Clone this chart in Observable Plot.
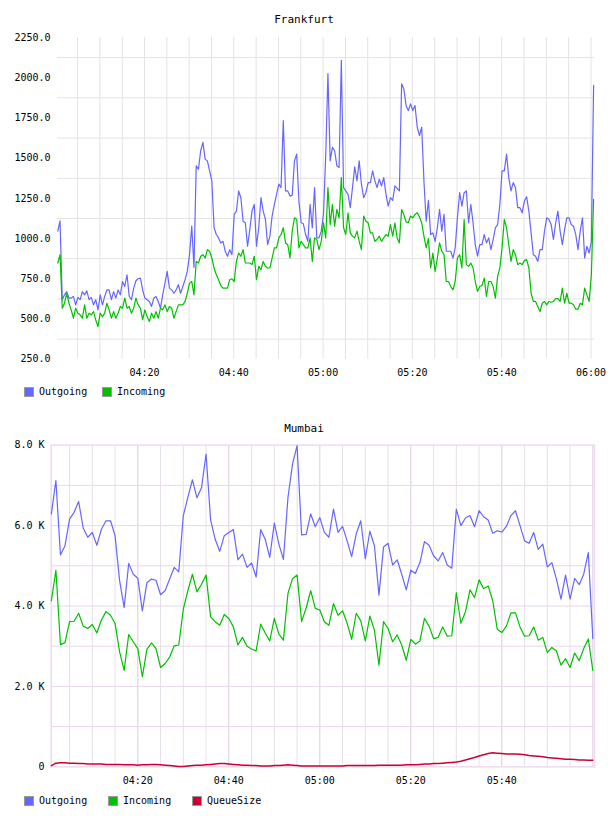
<!DOCTYPE html>
<html>
<head>
<meta charset="utf-8">
<script src="https://cdn.jsdelivr.net/npm/d3@7"></script>
<script src="https://cdn.jsdelivr.net/npm/@observablehq/plot@0.6"></script>
<style>
  html, body { margin: 0; padding: 0; background: #fff; }
  body { position: relative; width: 608px; height: 816px; overflow: hidden; font-family: "DejaVu Sans Mono", monospace; color: #000; }
  .title { position: absolute; left: 0; width: 608px; text-align: center; font-size: 11px; line-height: 14px; }
  .chart { position: absolute; left: 0; }
  .sw { position: absolute; width: 10px; height: 10px; box-sizing: border-box; border: 1px solid #9a9a9a; }
  .lt { position: absolute; font-size: 10px; line-height: 12px; }
</style>
</head>
<body>
<div class="title" id="t1" style="top:13px">Frankfurt</div>
<div class="chart" id="c1" style="top:30px"></div>
<div id="l1"></div>
<div class="title" id="t2" style="top:422px">Mumbai</div>
<div class="chart" id="c2" style="top:438px"></div>
<div id="l2"></div>
<script>
// ---------------- Frankfurt ----------------
const fraStart = "04:00:35";
const fraStepSec = 30;
const fraOutgoing = [
1046,1110,620,650,670,630,630,640,588,634,
620,670,650,675,620,634,588,620,557,650,
588,640,681,681,620,670,630,681,650,733,
702,775,640,620,692,738,750,754,681,630,
620,609,578,630,640,609,567,650,723,796,
692,681,660,681,713,660,702,744,796,900,
1077,
820,1452,1431,1546,1598,1494,1483,1421,1358,1067,
1025,1004,973,983,921,890,931,900,1150,1171,
1296,1254,1108,1098,952,1056,1171,1212,952,1067,
1254,1171,1119,962,1015,1140,1212,1275,1338,1317,
1733,1296,1296,1264,1270,1483,1525,1233,1098,1092,
1025,983,1212,1067,1317,1004,1004,1046,1150,1515,
2025,1483,1567,1546,1452,1442,2108,1317,1296,1275,
1192,1317,1446,1358,1483,1338,1254,1285,1348,1348,
1421,1362,1317,1369,1327,1379,1275,1202,1254,1237,
1327,1312,1296,1962,1931,1827,1796,1837,1796,1827,
1692,1640,1692,1358,1108,1237,1025,1035,983,1067,
1181,1046,1150,921,921,921,879,942,1129,1285,
1202,1285,1296,1098,1212,1098,962,890,962,962,
1025,973,1004,931,994,1067,1087,1212,1421,1421,
1525,1379,1296,1348,1317,1192,1192,1160,1233,1260,
1171,1035,900,890,858,931,931,1046,1129,1119,
1087,994,1098,1171,1046,962,1056,1129,1129,1087,
1077,1025,931,1046,1129,879,952,910,983,1952
];
const fraIncoming = [
848,900,567,598,660,598,557,505,567,536,
526,505,588,505,536,526,546,494,453,536,
515,536,598,557,505,546,505,536,578,567,
630,567,578,536,567,630,588,567,494,557,
515,484,536,505,546,505,567,557,588,546,
578,567,505,546,588,588,588,609,660,723,
733,
650,858,848,890,900,879,931,921,879,817,
775,744,708,692,692,692,744,750,733,858,
910,890,931,848,848,848,838,890,744,827,
806,858,827,817,817,879,942,942,1004,1025,
1067,973,962,879,1046,1129,1119,942,983,962,
942,942,1004,858,1004,994,931,983,1098,1004,
1317,1087,1212,1077,1181,1129,1379,1067,1025,1160,
1035,1015,1004,1046,983,931,1140,1108,1098,1035,
1035,983,994,1015,983,1004,1025,1015,1087,1015,
1098,1004,973,1181,1150,1104,1098,1140,1129,1150,
1160,1135,1098,1015,942,1000,817,910,796,879,
973,921,900,733,733,702,681,733,879,900,
817,1119,838,827,848,817,733,671,702,708,
754,640,733,733,702,630,765,817,942,1119,
1067,962,858,931,900,838,848,838,863,869,
817,660,609,609,578,546,598,609,588,609,
604,609,626,626,609,692,598,660,598,598,
588,561,561,598,588,692,650,609,775,1244
];
const fraYTicks = [250,500,750,1000,1250,1500,1750,2000,2250];
const fraYGrid = [375,625,875,1125,1375,1625,1875,2125];
const fraXTicks = ["04:20","04:40","05:00","05:20","05:40","06:00"];
const fraXDomain = ["04:00:31","06:00:47"];

// ---------------- Mumbai (values in K) ----------------
const mumStart = "04:01";
const mumStepSec = 60;
const mumOutgoing = [
6.29,7.12,5.27,5.50,6.16,6.33,6.60,5.94,5.71,5.83,
5.51,5.91,6.12,6.12,5.75,4.63,3.96,5.06,4.79,4.69,
3.88,4.58,4.67,4.64,4.28,4.38,4.67,4.96,4.85,6.25,
6.70,7.14,6.69,6.94,7.78,6.14,5.66,5.36,5.75,5.83,
5.90,5.15,5.29,4.96,5.07,4.72,5.90,5.66,5.21,6.06,
5.54,5.16,6.70,7.53,7.99,5.77,5.78,6.29,5.97,6.20,
5.83,5.71,6.41,5.83,5.98,5.62,5.23,5.79,6.12,5.18,
5.86,5.50,4.27,5.47,5.56,5.02,5.15,4.79,4.40,4.89,
4.81,5.08,5.60,5.51,5.25,5.12,5.33,5.02,4.94,6.41,
6.00,6.19,6.25,5.97,6.37,6.22,6.14,5.81,5.87,5.84,
5.98,6.25,6.37,6.00,5.62,5.56,5.83,5.41,5.54,4.97,
5.08,4.67,4.17,4.77,4.17,4.69,4.53,4.79,5.33,3.19
];
const mumIncoming = [
4.13,4.89,3.04,3.09,3.61,3.62,3.82,3.50,3.44,3.54,
3.33,3.65,3.86,3.77,3.57,2.86,2.40,3.29,3.11,2.94,
2.24,2.92,3.08,2.94,2.47,2.57,2.73,3.01,3.03,3.92,
4.38,4.79,4.35,4.54,4.77,3.73,3.61,3.52,3.79,3.69,
3.48,3.03,3.22,3.00,2.93,2.88,3.55,3.33,3.13,3.69,
3.30,3.15,4.31,4.68,4.77,3.61,3.95,4.38,3.94,3.90,
3.61,3.52,4.06,3.77,3.88,3.57,3.17,3.82,3.63,3.13,
3.75,3.40,2.53,3.61,3.44,3.11,3.28,3.03,2.65,3.17,
3.05,3.13,3.69,3.50,3.19,3.22,3.48,3.25,3.26,4.33,
3.57,3.85,4.40,4.21,4.65,4.43,4.50,4.13,3.42,3.34,
3.50,3.83,3.83,3.48,3.25,3.26,3.48,3.15,3.22,2.84,
2.97,2.88,2.53,2.69,2.47,2.83,2.64,2.94,3.18,2.40
];
const mumQueueSize = [
0.03,0.09,0.10,0.10,0.09,0.09,0.08,0.08,0.07,0.07,
0.07,0.07,0.06,0.06,0.06,0.06,0.05,0.05,0.05,0.04,
0.05,0.05,0.06,0.06,0.05,0.04,0.03,0.02,0.01,0.01,
0.02,0.03,0.04,0.04,0.05,0.06,0.07,0.08,0.08,0.07,
0.06,0.05,0.04,0.04,0.03,0.03,0.02,0.02,0.02,0.03,
0.03,0.04,0.05,0.04,0.03,0.02,0.02,0.02,0.02,0.02,
0.02,0.02,0.02,0.02,0.02,0.03,0.03,0.03,0.03,0.03,
0.03,0.03,0.04,0.04,0.04,0.04,0.04,0.04,0.05,0.05,
0.05,0.06,0.07,0.07,0.08,0.08,0.09,0.10,0.11,0.12,
0.14,0.17,0.20,0.23,0.27,0.30,0.33,0.35,0.34,0.33,
0.32,0.32,0.32,0.31,0.30,0.28,0.27,0.26,0.25,0.23,
0.22,0.21,0.20,0.19,0.19,0.18,0.17,0.17,0.16,0.16
];
const mumYTicks = [0,2,4,6,8];
const mumYGrid = [1,2,3,4,5,6,7];
const mumXTicks = ["04:20","04:40","05:00","05:20","05:40"];
const mumXDomain = ["04:00:58","06:00:22"];

const seriesNames = ["Outgoing","Incoming","QueueSize"];
const colors = {Outgoing: "#6666ff", Incoming: "#00c000", QueueSize: "#cc0033"};

// ---------------- helpers ----------------
const T = s => { const [h, m, sec = 0] = s.split(":").map(Number); return new Date(Date.UTC(2020, 0, 1, h, m, sec)); };
const fmt = d3.utcFormat("%H:%M");
const font = {fontFamily: "'DejaVu Sans Mono', monospace", fontSize: "10px", color: "#000", background: "transparent", overflow: "visible"};

const fraT0 = T(fraStart).getTime();
const fraData = fraOutgoing.map((v, i) => ({t: new Date(fraT0 + i * fraStepSec * 1000), Outgoing: v, Incoming: fraIncoming[i]}));
const mumT0 = T(mumStart).getTime();
const mumData = mumOutgoing.map((v, i) => ({t: new Date(mumT0 + i * mumStepSec * 1000), Outgoing: v, Incoming: mumIncoming[i], QueueSize: mumQueueSize[i]}));

// Frankfurt chart
const h1 = 350, plotTop1 = 37 - 30, plotBottom1 = 358.7 - 30;
const fraGridX = d3.utcMinute.every(5).range(T("04:05"), T("06:00:01"));
const chart1 = Plot.plot({
  width: 608, height: h1,
  marginLeft: 57, marginRight: 14, marginTop: plotTop1, marginBottom: h1 - plotBottom1,
  style: font,
  x: {type: "utc", domain: fraXDomain.map(T), label: null},
  y: {domain: [250, 2250], label: null},
  marks: [
    Plot.ruleX(fraGridX, {stroke: "#e3e3e3", strokeWidth: 1}),
    Plot.ruleY(fraYGrid, {stroke: "#e3e3e3", strokeWidth: 1}),
    Plot.axisY({ticks: fraYTicks, tickSize: 0, tickPadding: 7, label: null, tickFormat: d => d.toFixed(1)}),
    Plot.axisX({ticks: fraXTicks.map(T), tickSize: 0, tickPadding: 10, label: null, tickFormat: fmt}),
    Plot.line(fraData, {x: "t", y: "Outgoing", stroke: colors.Outgoing, strokeWidth: 1.2}),
    Plot.line(fraData, {x: "t", y: "Incoming", stroke: colors.Incoming, strokeWidth: 1.2})
  ]
});
document.getElementById("c1").append(chart1);

// Mumbai chart
const h2 = 352, plotTop2 = 444.7 - 438, plotBottom2 = 766.3 - 438;
const allFive = d3.utcMinute.every(5).range(T("04:05"), T("06:00:01"));
const majorSet = new Set(mumXTicks.concat(["06:00"]));
const mumMinorX = allFive.filter(d => !majorSet.has(fmt(d)));
const mumMajorX = allFive.filter(d => majorSet.has(fmt(d)));
const chart2 = Plot.plot({
  width: 608, height: h2,
  marginLeft: 50.7, marginRight: 14, marginTop: plotTop2, marginBottom: h2 - plotBottom2,
  style: font,
  x: {type: "utc", domain: mumXDomain.map(T), label: null},
  y: {domain: [0, 8], label: null},
  marks: [
    Plot.ruleX(mumMinorX, {stroke: "#e8e0e8", strokeWidth: 1}),
    Plot.ruleX(mumMajorX, {stroke: "#dccbe0", strokeWidth: 1}),
    Plot.ruleY(mumYGrid, {stroke: "#e8d8e8", strokeWidth: 1}),
    Plot.frame({stroke: "#eddcee", strokeWidth: 1.6}),
    Plot.axisY({ticks: mumYTicks, tickSize: 0, tickPadding: 6.7, label: null, tickFormat: d => d === 0 ? "0" : d.toFixed(1) + " K"}),
    Plot.axisX({ticks: mumXTicks.map(T), tickSize: 0, tickPadding: 10, label: null, tickFormat: fmt}),
    Plot.line(mumData, {x: "t", y: "QueueSize", stroke: colors.QueueSize, strokeWidth: 1.5}),
    Plot.line(mumData, {x: "t", y: "Outgoing", stroke: colors.Outgoing, strokeWidth: 1.2}),
    Plot.line(mumData, {x: "t", y: "Incoming", stroke: colors.Incoming, strokeWidth: 1.2})
  ]
});
document.getElementById("c2").append(chart2);

// Legends
function legend(id, names, swLefts, top) {
  const el = document.getElementById(id);
  names.forEach((n, i) => {
    const sw = document.createElement("div");
    sw.className = "sw";
    sw.style.left = swLefts[i] + "px";
    sw.style.top = top + "px";
    sw.style.background = colors[n];
    el.append(sw);
    const tx = document.createElement("div");
    tx.className = "lt";
    tx.style.left = (swLefts[i] + 15) + "px";
    tx.style.top = (top - 1) + "px";
    tx.textContent = n;
    el.append(tx);
  });
}
legend("l1", seriesNames.slice(0, 2), [24, 102], 387);
legend("l2", seriesNames, [24, 108, 192], 796);
</script>
</body>
</html>
